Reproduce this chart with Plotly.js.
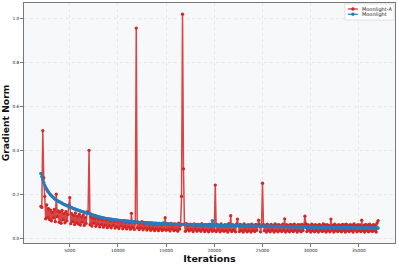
<!DOCTYPE html>
<html>
<head>
<meta charset="utf-8">
<script src="https://cdn.plot.ly/plotly-3.0.1.min.js"></script>
<style>html,body{margin:0;padding:0;background:#fff;}#chart{width:399px;height:265px;}</style>
</head>
<body>
<div id="chart"></div>
<script>
// Iterations start at 2000, one sample every 100 iterations
var iterStart = 2000;
var iterStep = 100;

var seriesNames = ["Moonlight-A", "Moonlight"];
var seriesColors = ["#d32626", "#2a7ab9"];

var moonlightA = [
  0.145, 0.14, 0.49, 0.275, 0.19, 0.088, 0.152, 0.095, 0.135, 0.085,
  0.128, 0.079, 0.118, 0.092, 0.131, 0.075, 0.2, 0.098, 0.124, 0.072,
  0.119, 0.068, 0.127, 0.083, 0.112, 0.07, 0.121, 0.079, 0.108, 0.15,
  0.185, 0.066, 0.112, 0.075, 0.104, 0.062, 0.115, 0.071, 0.099, 0.064,
  0.108, 0.06, 0.097, 0.073, 0.105, 0.058, 0.094, 0.067, 0.12, 0.118,
  0.40, 0.061, 0.096, 0.055, 0.092, 0.068, 0.089, 0.054, 0.094, 0.063,
  0.087, 0.051, 0.091, 0.062, 0.084, 0.05, 0.088, 0.059, 0.082, 0.048,
  0.085, 0.056, 0.079, 0.047, 0.083, 0.058, 0.077, 0.046, 0.081, 0.053,
  0.076, 0.044, 0.08, 0.055, 0.074, 0.043, 0.078, 0.052, 0.072, 0.042,
  0.077, 0.05, 0.071, 0.041, 0.113, 0.049, 0.074, 0.04, 0.069, 0.957,
  0.048, 0.072, 0.039, 0.068, 0.047, 0.075, 0.038, 0.066, 0.046, 0.071,
  0.037, 0.069, 0.045, 0.064, 0.036, 0.07, 0.044, 0.063, 0.035, 0.068,
  0.043, 0.065, 0.034, 0.067, 0.042, 0.062, 0.035, 0.069, 0.041, 0.093,
  0.036, 0.066, 0.04, 0.061, 0.033, 0.067, 0.042, 0.06, 0.034, 0.065,
  0.039, 0.063, 0.032, 0.068, 0.041, 0.059, 0.19, 1.02, 0.316, 0.064,
  0.031, 0.066, 0.04, 0.058, 0.033, 0.064, 0.039, 0.061, 0.03, 0.065,
  0.04, 0.057, 0.032, 0.063, 0.038, 0.06, 0.031, 0.066, 0.039, 0.056,
  0.03, 0.062, 0.037, 0.059, 0.029, 0.064, 0.038, 0.055, 0.031, 0.061,
  0.036, 0.242, 0.03, 0.063, 0.037, 0.058, 0.029, 0.065, 0.036, 0.057,
  0.031, 0.062, 0.035, 0.06, 0.028, 0.066, 0.037, 0.102, 0.03, 0.061,
  0.036, 0.058, 0.029, 0.064, 0.087, 0.057, 0.03, 0.063, 0.035, 0.059,
  0.028, 0.065, 0.036, 0.058, 0.029, 0.062, 0.034, 0.06, 0.028, 0.064,
  0.035, 0.057, 0.03, 0.063, 0.036, 0.059, 0.082, 0.061, 0.029, 0.058,
  0.25, 0.062, 0.034, 0.059, 0.028, 0.064, 0.035, 0.057, 0.029, 0.063,
  0.036, 0.058, 0.028, 0.065, 0.034, 0.06, 0.029, 0.062, 0.035, 0.057,
  0.03, 0.064, 0.036, 0.088, 0.028, 0.061, 0.034, 0.058, 0.029, 0.063,
  0.035, 0.059, 0.03, 0.064, 0.036, 0.057, 0.028, 0.062, 0.034, 0.06,
  0.029, 0.063, 0.035, 0.058, 0.1, 0.065, 0.03, 0.061, 0.036, 0.057,
  0.028, 0.064, 0.034, 0.059, 0.029, 0.062, 0.035, 0.058, 0.028, 0.063,
  0.036, 0.057, 0.03, 0.065, 0.034, 0.06, 0.028, 0.061, 0.035, 0.058,
  0.029, 0.087, 0.036, 0.059, 0.028, 0.064, 0.034, 0.057, 0.03, 0.062,
  0.035, 0.058, 0.029, 0.063, 0.036, 0.06, 0.028, 0.064, 0.034, 0.057,
  0.03, 0.062, 0.035, 0.059, 0.028, 0.065, 0.036, 0.058, 0.029, 0.061,
  0.034, 0.06, 0.03, 0.082, 0.035, 0.058, 0.028, 0.063, 0.036, 0.059,
  0.029, 0.064, 0.034, 0.057, 0.03, 0.062, 0.035, 0.06, 0.028, 0.07,
  0.08
];

var moonlight = [
  0.295, 0.28, 0.266, 0.253, 0.242, 0.232, 0.223, 0.215, 0.209, 0.203,
  0.198, 0.193, 0.189, 0.185, 0.181, 0.177, 0.174, 0.171, 0.168, 0.166,
  0.164, 0.161, 0.159, 0.156, 0.154, 0.152, 0.15, 0.148, 0.146, 0.144,
  0.143, 0.141, 0.139, 0.137, 0.135, 0.133, 0.132, 0.13, 0.128, 0.127,
  0.125, 0.124, 0.122, 0.121, 0.119, 0.118, 0.117, 0.115, 0.114, 0.113,
  0.112, 0.11, 0.109, 0.107, 0.106, 0.104, 0.103, 0.101, 0.1, 0.099,
  0.097, 0.096, 0.095, 0.094, 0.093, 0.092, 0.091, 0.09, 0.089, 0.089,
  0.088, 0.087, 0.086, 0.086, 0.085, 0.084, 0.084, 0.083, 0.083, 0.082,
  0.082, 0.081, 0.081, 0.08, 0.08, 0.079, 0.079, 0.078, 0.078, 0.077,
  0.077, 0.077, 0.076, 0.076, 0.075, 0.075, 0.075, 0.074, 0.074, 0.073,
  0.073, 0.073, 0.072, 0.072, 0.072, 0.071, 0.071, 0.071, 0.07, 0.07,
  0.069, 0.069, 0.069, 0.069, 0.068, 0.068, 0.068, 0.068, 0.067, 0.067,
  0.067, 0.067, 0.067, 0.066, 0.066, 0.066, 0.066, 0.066, 0.065, 0.065,
  0.065, 0.065, 0.065, 0.065, 0.064, 0.064, 0.064, 0.064, 0.064, 0.063,
  0.063, 0.063, 0.063, 0.063, 0.063, 0.063, 0.062, 0.062, 0.062, 0.062,
  0.062, 0.062, 0.062, 0.062, 0.061, 0.061, 0.061, 0.061, 0.061, 0.061,
  0.061, 0.061, 0.061, 0.06, 0.06, 0.06, 0.06, 0.06, 0.06, 0.06,
  0.06, 0.06, 0.06, 0.06, 0.059, 0.059, 0.059, 0.059, 0.08, 0.059,
  0.059, 0.059, 0.059, 0.058, 0.058, 0.058, 0.058, 0.058, 0.058, 0.058,
  0.058, 0.057, 0.058, 0.057, 0.057, 0.058, 0.057, 0.057, 0.056, 0.057,
  0.057, 0.056, 0.057, 0.056, 0.057, 0.056, 0.056, 0.057, 0.056, 0.056,
  0.056, 0.055, 0.056, 0.056, 0.055, 0.056, 0.055, 0.056, 0.055, 0.055,
  0.055, 0.056, 0.055, 0.055, 0.054, 0.055, 0.055, 0.054, 0.055, 0.054,
  0.055, 0.054, 0.054, 0.055, 0.054, 0.054, 0.053, 0.054, 0.054, 0.053,
  0.054, 0.053, 0.054, 0.053, 0.053, 0.054, 0.053, 0.053, 0.052, 0.053,
  0.053, 0.052, 0.053, 0.053, 0.052, 0.053, 0.052, 0.052, 0.053, 0.052,
  0.052, 0.053, 0.052, 0.052, 0.051, 0.052, 0.052, 0.051, 0.052, 0.051,
  0.052, 0.051, 0.051, 0.052, 0.051, 0.051, 0.05, 0.051, 0.051, 0.05,
  0.051, 0.05, 0.051, 0.05, 0.05, 0.051, 0.05, 0.05, 0.049, 0.05,
  0.05, 0.049, 0.05, 0.05, 0.049, 0.05, 0.049, 0.049, 0.05, 0.049,
  0.049, 0.05, 0.049, 0.049, 0.048, 0.049, 0.049, 0.048, 0.049, 0.048,
  0.049, 0.048, 0.048, 0.049, 0.048, 0.048, 0.047, 0.048, 0.048, 0.047,
  0.048, 0.047, 0.048, 0.047, 0.047, 0.048, 0.047, 0.047, 0.046, 0.047,
  0.047, 0.046, 0.047, 0.047, 0.046, 0.047, 0.046, 0.046, 0.047, 0.046,
  0.046, 0.047, 0.046, 0.046, 0.045, 0.046, 0.046, 0.045, 0.046, 0.045,
  0.046
];

var xTickVals = [5000, 10000, 15000, 20000, 25000, 30000, 35000];
var yTickVals = [0.0, 0.2, 0.4, 0.6, 0.8, 1.0];

var traces = [
  {
    name: seriesNames[0],
    type: "scatter",
    mode: "lines+markers",
    x0: iterStart, dx: iterStep,
    y: moonlightA,
    line: {color: "rgba(211,38,38,0.85)", width: 1.5, simplify: false},
    marker: {color: seriesColors[0], size: 3.3, symbol: "circle"}
  },
  {
    name: seriesNames[1],
    type: "scatter",
    mode: "lines+markers",
    x0: iterStart, dx: iterStep,
    y: moonlight,
    line: {color: seriesColors[1], width: 1.5, simplify: false},
    marker: {color: seriesColors[1], size: 3.4, symbol: "circle"}
  }
];

var axisCommon = {
  showline: true,
  mirror: true,
  linecolor: "#777",
  linewidth: 1.3,
  ticks: "outside",
  ticklen: 2.5,
  tickwidth: 0.8,
  tickcolor: "#555",
  showgrid: true,
  gridcolor: "#e2e4e8",
  griddash: "dot",
  gridwidth: 0.8,
  zeroline: false,
  tickfont: {family: "DejaVu Sans", size: 4.3, color: "#222"}
};

// Hand-drawn legend (paper coordinates) to match the compact reference legend
var legBox = {x0: 0.865, x1: 0.997, y0: 0.929, y1: 0.996};
var legRows = [0.975, 0.953];
var legLine = [0.873, 0.900];
var legText = 0.906;
var shapes = [{
  type: "rect", xref: "paper", yref: "paper",
  x0: legBox.x0, x1: legBox.x1, y0: legBox.y0, y1: legBox.y1,
  fillcolor: "rgba(255,255,255,0.9)", line: {color: "#d8d8d8", width: 0.7}, layer: "above"
}];
var annotations = [];
seriesNames.forEach(function (nm, i) {
  var yc = legRows[i];
  var mid = (legLine[0] + legLine[1]) / 2;
  shapes.push({type: "line", xref: "paper", yref: "paper", x0: legLine[0], x1: legLine[1], y0: yc, y1: yc,
    line: {color: seriesColors[i], width: 1.2}, layer: "above"});
  shapes.push({type: "circle", xref: "paper", yref: "paper", x0: mid - 0.004, x1: mid + 0.004, y0: yc - 0.006, y1: yc + 0.006,
    fillcolor: seriesColors[i], line: {color: seriesColors[i], width: 0.5}, layer: "above"});
  annotations.push({xref: "paper", yref: "paper", x: legText, y: yc, xanchor: "left", yanchor: "middle",
    text: nm, showarrow: false, font: {family: "DejaVu Sans", size: 5, color: "#222"}});
});

var layout = {
  width: 399,
  height: 265,
  margin: {l: 24, r: 4, t: 3, b: 22},
  paper_bgcolor: "#ffffff",
  plot_bgcolor: "#f7f8fa",
  showlegend: false,
  shapes: shapes,
  annotations: annotations,
  xaxis: Object.assign({}, axisCommon, {
    range: [250, 38750],
    tickvals: xTickVals,
    ticktext: xTickVals.map(String),
    title: {text: "<b>Iterations</b>", font: {family: "DejaVu Sans", size: 9.5, color: "#111"}, standoff: 3}
  }),
  yaxis: Object.assign({}, axisCommon, {
    range: [-0.022, 1.071],
    tickvals: yTickVals,
    tickformat: ".1f",
    title: {text: "<b>Gradient Norm</b>", font: {family: "DejaVu Sans", size: 9.2, color: "#111"}, standoff: 4}
  })
};

Plotly.newPlot("chart", traces, layout, {displayModeBar: false, staticPlot: true});
</script>
</body>
</html>
